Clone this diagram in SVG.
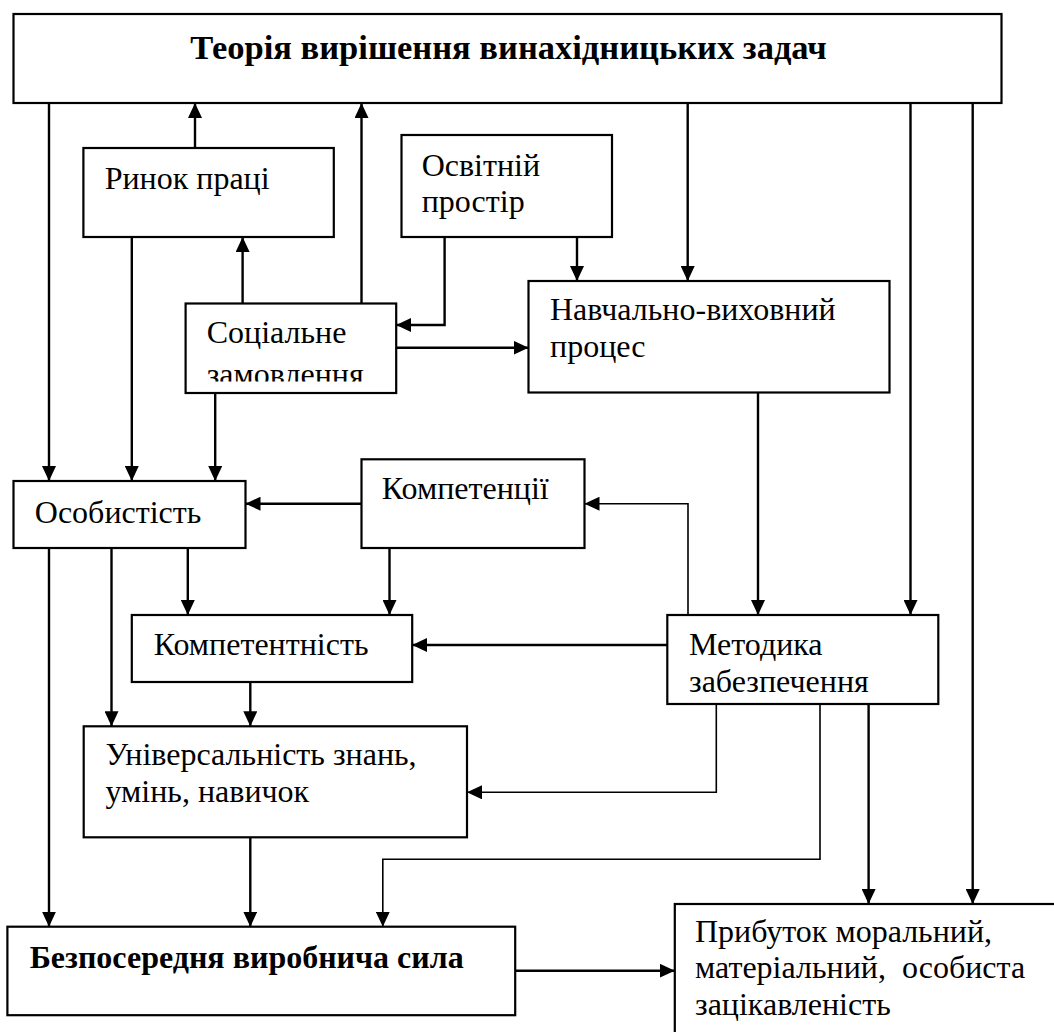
<svg xmlns="http://www.w3.org/2000/svg" width="1054" height="1032" viewBox="0 0 1054 1032">
<style>
.box{fill:#fff;stroke:#000;stroke-width:2.2}
text{font-family:'Liberation Serif','Times New Roman','DejaVu Serif',serif;font-size:32px;fill:#000;white-space:pre}
.b{font-weight:bold}
.ttl{font-size:34.5px}
.c{fill:none;stroke:#000;stroke-width:2.4}
.thin{stroke-width:1.6}
</style>
<defs>
<marker id="ah" markerUnits="userSpaceOnUse" markerWidth="15" markerHeight="14" refX="15" refY="7" orient="auto">
<path d="M0,0 L15,7 L0,14 z" fill="#000"/>
</marker>
<clipPath id="clipSoc"><rect x="186" y="304" width="210" height="77.5"/></clipPath>
</defs>
<rect width="1054" height="1032" fill="#fff"/>
<g id="connectors">
<path class="c" d="M195,148 V103" marker-end="url(#ah)"/>
<path class="c" d="M361.5,303.5 V103" marker-end="url(#ah)"/>
<path class="c" d="M242.6,303.5 V237" marker-end="url(#ah)"/>
<path class="c" d="M444.6,237 V325 H396.2" marker-end="url(#ah)"/>
<path class="c" d="M396.2,347.7 H528.5" marker-end="url(#ah)"/>
<path class="c" d="M577,237 V281" marker-end="url(#ah)"/>
<path class="c" d="M687.7,103 V281" marker-end="url(#ah)"/>
<path class="c" d="M910.5,103 V615" marker-end="url(#ah)"/>
<path class="c" d="M972.7,103 V904" marker-end="url(#ah)"/>
<path class="c" d="M49,103 V481" marker-end="url(#ah)"/>
<path class="c" d="M131.8,237 V481" marker-end="url(#ah)"/>
<path class="c" d="M215.2,393 V481" marker-end="url(#ah)"/>
<path class="c" d="M758,392.5 V615" marker-end="url(#ah)"/>
<path class="c" d="M361.5,503.7 H245.5" marker-end="url(#ah)"/>
<path class="c thin" d="M688,615 V503.7 H584.5" marker-end="url(#ah)"/>
<path class="c" d="M49,548 V926.7" marker-end="url(#ah)"/>
<path class="c" d="M111.5,548 V726.3" marker-end="url(#ah)"/>
<path class="c" d="M187.8,548 V615" marker-end="url(#ah)"/>
<path class="c" d="M389.5,548 V615" marker-end="url(#ah)"/>
<path class="c" d="M667.3,645 H412.2" marker-end="url(#ah)"/>
<path class="c" d="M250.3,682 V726.3" marker-end="url(#ah)"/>
<path class="c thin" d="M716.3,704 V792.3 H467" marker-end="url(#ah)"/>
<path class="c" d="M250.3,837.3 V926.7" marker-end="url(#ah)"/>
<path class="c thin" d="M820,704 V859.3 H382.8 V926.7" marker-end="url(#ah)"/>
<path class="c" d="M868.6,704 V904" marker-end="url(#ah)"/>
<path class="c" d="M515.2,970.7 H674.8" marker-end="url(#ah)"/>
</g>
<g id="title">
<rect class="box" x="13.5" y="14" width="988" height="89"/>
<text class="b ttl" x="508.5" y="59" text-anchor="middle">Теорія вирішення винахідницьких задач</text>
</g>
<g id="rynok">
<rect class="box" x="83.4" y="148" width="250.4" height="89"/>
<text x="104.7" y="189">Ринок праці</text>
</g>
<g id="osvitniy">
<rect class="box" x="401.5" y="135" width="210.5" height="102"/>
<text x="421.7" y="176">Освітній</text>
<text x="421.7" y="212">простір</text>
</g>
<g id="social">
<rect class="box" x="185.6" y="303.5" width="210.6" height="89.5"/>
<text x="206.7" y="343.3">Соціальне</text>
<text x="206.7" y="385" clip-path="url(#clipSoc)">замовлення</text>
</g>
<g id="navch">
<rect class="box" x="528.5" y="281" width="361" height="111.5"/>
<text x="550" y="320">Навчально-виховний</text>
<text x="550" y="356.7">процес</text>
</g>
<g id="osob">
<rect class="box" x="13.5" y="481" width="232" height="67"/>
<text x="34.8" y="522.7">Особистість</text>
</g>
<g id="kompetentsii">
<rect class="box" x="361.5" y="459.3" width="223" height="88.7"/>
<text x="381.8" y="499.3">Компетенції</text>
</g>
<g id="kompetentnist">
<rect class="box" x="131.8" y="615" width="280.4" height="67"/>
<text x="153.7" y="655">Компетентність</text>
</g>
<g id="metodyka">
<rect class="box" x="667.3" y="615" width="271" height="89"/>
<text x="689" y="655">Методика</text>
<text x="689" y="691.7">забезпечення</text>
</g>
<g id="univ">
<rect class="box" x="83.7" y="726.3" width="383.3" height="111"/>
<text x="105.5" y="765">Універсальність знань,</text>
<text x="105.5" y="801.7">умінь, навичок</text>
</g>
<g id="bezpos">
<rect class="box" x="7.4" y="926.7" width="507.8" height="88.5"/>
<text class="b" x="29.7" y="968.3">Безпосередня виробнича сила</text>
</g>
<g id="prybutok">
<rect class="box" x="674.8" y="904" width="420" height="200"/>
<text x="695" y="941.7">Прибуток моральний,</text>
<text x="695" y="978.3">матеріальний,  особиста</text>
<text x="695" y="1015">зацікавленість</text>
</g>
</svg>
